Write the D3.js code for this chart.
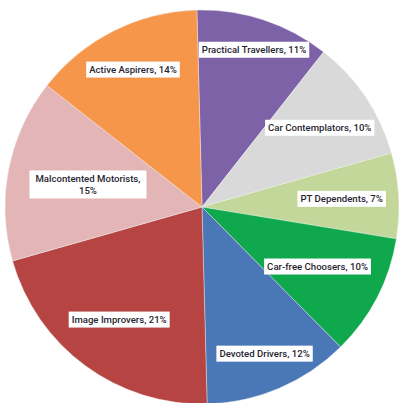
<!DOCTYPE html>
<html>
<head>
<meta charset="utf-8">
<script src="https://cdn.jsdelivr.net/npm/d3@7"></script>
<style>
  html, body { margin: 0; padding: 0; background: #fff; }
  svg { display: block; }
</style>
</head>
<body>
<svg id="chart" width="400" height="403"></svg>
<script>
const categories = [
  'Practical Travellers',
  'Car Contemplators',
  'PT Dependents',
  'Car-free Choosers',
  'Devoted Drivers',
  'Image Improvers',
  'Malcontented Motorists',
  'Active Aspirers'
];
const shares = [11, 10, 7, 10, 12, 21, 15, 14];
const colors = ['#7e62a8', '#d9d9d9', '#c4d79b', '#10a84d', '#4a77b6', '#b54442', '#e3b5b6', '#f6964a'];
// how far out each label sits, as a fraction of the radius
const labelRadii = [0.84, 0.72, 0.71, 0.66, 0.81, 0.71, 0.59, 0.78];

const cx = 202;
const cy = 207;
const radius = 197;
const tilt = -0.026; // the source image is turned a touch anticlockwise

const svg = d3.select('#chart');

const pie = d3
  .pie()
  .value((d) => d.value)
  .sort(null)
  .startAngle(tilt)
  .endAngle(2 * Math.PI + tilt);

const data = categories.map((name, i) => ({ name, value: shares[i], color: colors[i], k: labelRadii[i] }));

const arc = d3.arc().innerRadius(0).outerRadius(radius);

const g = svg.append('g').attr('transform', `translate(${cx}, ${cy})`);

g.selectAll('path')
  .data(pie(data))
  .enter()
  .append('path')
  .attr('d', arc)
  .attr('fill', (d) => d.data.color)
  .attr('stroke', '#f4f4f4')
  .attr('stroke-width', 0.4);

// Data labels in white boxes
const maxTextWidth = 121;
const lineHeight = 12;

const labels = g
  .selectAll('g.label')
  .data(pie(data))
  .enter()
  .append('g')
  .attr('class', 'label')
  .attr('transform', (d) => {
    const r = radius * d.data.k;
    const [x, y] = d3.arc().innerRadius(r).outerRadius(r).centroid(d);
    return `translate(${x}, ${y})`;
  });

labels.each(function (d) {
  const lbl = d3.select(this);
  const rect = lbl.append('rect').attr('fill', '#fff');
  const text = lbl
    .append('text')
    .attr('text-anchor', 'middle')
    .style('font-family', 'Roboto, "Liberation Sans", sans-serif')
    .style('font-size', '9.6px')
    .style('font-weight', 500)
    .attr('fill', '#1f2430');

  const full = `${d.data.name}, ${d.data.value}%`;
  let lines = [full];
  text.text(full);
  if (text.node().getComputedTextLength() > maxTextWidth) {
    lines = [`${d.data.name},`, `${d.data.value}%`];
  }
  text.text(null);
  const top = -((lines.length - 1) * lineHeight) / 2;
  lines.forEach((line, i) => {
    text
      .append('tspan')
      .attr('x', 0)
      .attr('y', top + i * lineHeight)
      .attr('dy', '0.35em')
      .text(line);
  });

  const box = text.node().getBBox();
  const padX = lines.length > 1 ? 6 : 3;
  rect
    .attr('x', box.x - padX)
    .attr('y', box.y - 2.5)
    .attr('width', box.width + 2 * padX)
    .attr('height', box.height + 5);
});
</script>
</body>
</html>
